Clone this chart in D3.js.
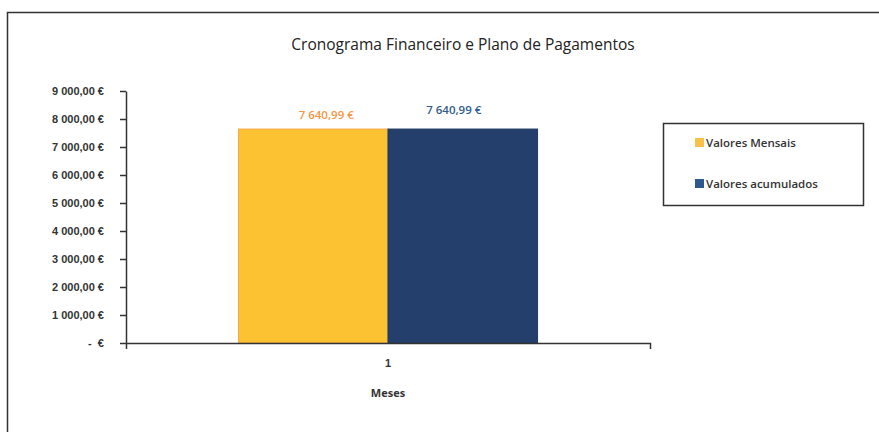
<!DOCTYPE html>
<html>
<head>
<meta charset="utf-8">
<script src="https://cdn.jsdelivr.net/npm/d3@7"></script>
<style>
  body { margin: 0; background: #fff; }
  svg { font-family: "Open Sans", "Liberation Sans", sans-serif; }
</style>
</head>
<body>
<script>
const categories = ["1"];
const series_names = ["Valores Mensais", "Valores acumulados"];
const valores_mensais = [7640.99];
const valores_acumulados = [7640.99];
const y_ticks = [0, 1000, 2000, 3000, 4000, 5000, 6000, 7000, 8000, 9000];

const bar_colors = ["#FDC231", "#243F6B"];
const label_colors = ["#F79646", "#2F5D8C"];

function fmt_eur(v) {
  if (v === 0) return "-  €";
  const parts = v.toFixed(2).split(".");
  const int_part = parts[0].replace(/\B(?=(\d{3})+(?!\d))/g, " ");
  return int_part + "," + parts[1] + " €";
}

const W = 879, H = 432;
const margin = {top: 91, right: 229, bottom: 89, left: 126};
const width = W - margin.left - margin.right,
  height = H - margin.top - margin.bottom;

const svg = d3.select("body").append("svg")
    .attr("width", W)
    .attr("height", H);

// outer chart border
svg.append("rect")
    .attr("x", 7.5).attr("y", 12.5)
    .attr("width", W + 10).attr("height", H + 10)
    .attr("fill", "none")
    .attr("stroke", "#333")
    .attr("stroke-width", 1.5);

svg.append("text")
    .attr("x", 463).attr("y", 50)
    .attr("text-anchor", "middle")
    .attr("font-size", 15.5)
    .attr("fill", "#222")
    .text("Cronograma Financeiro e Plano de Pagamentos");

const g = svg.append("g")
    .attr("transform", "translate(" + margin.left + "," + margin.top + ")");

const x0 = d3.scaleBand().domain(categories).range([0, width]).paddingInner(0).paddingOuter(0.376);
const x1 = d3.scaleBand().domain(series_names).range([0, x0.bandwidth()]);
const y = d3.scaleLinear().domain([0, 9000]).range([height, 0]);

const series = [valores_mensais, valores_acumulados];

// bars
for (let s = 0; s < series.length; s++) {
  g.selectAll(".bar" + s)
    .data(series[s])
    .enter().append("rect")
      .attr("x", (d, i) => x0(categories[i]) + x1(series_names[s]))
      .attr("y", d => y(d))
      .attr("width", x1.bandwidth())
      .attr("height", d => height - y(d))
      .attr("fill", bar_colors[s])
      .attr("stroke", s === 0 ? "#F5A94B" : "#1F3A63")
      .attr("stroke-width", 1);

  g.selectAll(".lab" + s)
    .data(series[s])
    .enter().append("text")
      .attr("x", (d, i) => x0(categories[i]) + x1(series_names[s]) + x1.bandwidth() / 2 + (s === 0 ? 13 : -9))
      .attr("y", d => y(d) - (s === 0 ? 10 : 15))
      .attr("text-anchor", "middle")
      .attr("font-size", 11.5)
      .attr("font-weight", 600)
      .attr("fill", label_colors[s])
      .text(d => fmt_eur(d));
}

// y axis
const y_axis = g.append("g")
    .call(d3.axisLeft(y).tickValues(y_ticks).tickSize(6).tickSizeOuter(0).tickFormat(fmt_eur));
y_axis.select(".domain").attr("stroke", "#333").attr("stroke-width", 1.5);
y_axis.selectAll(".tick line").attr("stroke", "#333").attr("stroke-width", 1.5);
y_axis.selectAll("text")
    .attr("x", -22)
    .attr("font-size", 11)
    .attr("font-weight", 600)
    .attr("fill", "#333")
    .style("white-space", "pre");

// x axis
const x_axis = g.append("g")
    .attr("transform", "translate(0," + height + ")")
    .call(d3.axisBottom(x0).tickSize(0).tickSizeOuter(6));
x_axis.select(".domain").attr("stroke", "#333").attr("stroke-width", 1.5);
x_axis.selectAll("text")
    .attr("dy", "1.9em")
    .attr("font-size", 11)
    .attr("font-weight", 600)
    .attr("fill", "#333");

g.append("text")
    .attr("x", width / 2).attr("y", height + 54)
    .attr("text-anchor", "middle")
    .attr("font-size", 11)
    .attr("font-weight", 700)
    .attr("fill", "#333")
    .text("Meses");

// legend
const legend = svg.append("g").attr("transform", "translate(663,123)");
legend.append("rect")
    .attr("x", 0.5).attr("y", 0.5)
    .attr("width", 200).attr("height", 82)
    .attr("fill", "#fff")
    .attr("stroke", "#333")
    .attr("stroke-width", 1.5);
const legend_swatch = ["#F8C24A", "#2C5A8C"];
series_names.forEach((name, i) => {
  const yy = 20 + i * 41;
  legend.append("rect")
      .attr("x", 32).attr("y", yy - 5)
      .attr("width", 9).attr("height", 9)
      .attr("fill", legend_swatch[i]);
  legend.append("text")
      .attr("x", 43).attr("y", yy + 4)
      .attr("font-size", 11.5)
      .attr("font-weight", 600)
      .attr("fill", "#333")
      .text(name);
});
</script>
</body>
</html>
